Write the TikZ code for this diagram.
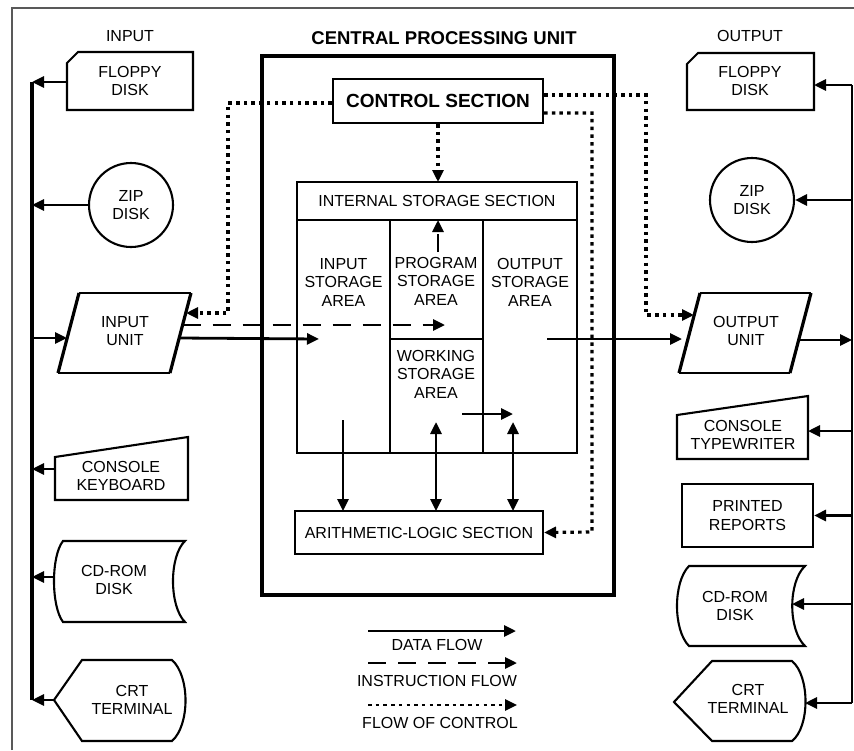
\documentclass[tikz,border=0pt]{standalone}
\usepackage{fontspec}
\setmainfont{Liberation Sans}
\usetikzlibrary{arrows.meta}

\tikzset{
  >={Triangle[length=12pt,width=11pt]},
  lbl/.style={font=\fontsize{16}{18.5}\selectfont, align=center, inner sep=0pt},
  hdr/.style={font=\fontsize{18.5}{22}\selectfont\bfseries, inner sep=0pt},
  outline/.style={draw, line width=2.1pt, line join=miter},
  slant/.style={draw, line width=3.2pt},
  boxnode/.style={draw, line width=2.1pt, inner sep=0pt, align=center,
    font=\fontsize{16}{18.5}\selectfont},
  data/.style={line width=2.8pt, ->},
  instr/.style={line width=2.8pt, dash pattern=on 18pt off 12pt, ->},
  ctrl/.style={line width=3.2pt, dash pattern=on 3.5pt off 4.2pt, ->},
  bus/.style={line width=3.4pt},
}

\begin{document}
\begin{tikzpicture}[x=1pt,y=-1pt]
\useasboundingbox (0,0) rectangle (854,750);
\fill[white] (0,0) rectangle (854,750);

% frame
\draw[line width=1.5pt, black!65] (12,750) -- (12,8) -- (854,8);

% ---------------- headings ----------------
\node[lbl] (inhdr)  at (130,36) {INPUT};
\node[lbl] (outhdr) at (750,36) {OUTPUT};
\node[hdr] (cpuhdr) at (444,38) {CENTRAL PROCESSING UNIT};

% ---------------- central processing unit ----------------
\draw[line width=3.8pt] (262,56) rectangle (614,595);

\node[boxnode, minimum width=210pt, minimum height=44pt,
      font=\fontsize{19}{22}\selectfont\bfseries] (ctl) at (438,101) {CONTROL SECTION};

% internal storage section
\draw[line width=2.1pt] (297,182) rectangle (577,453);
\draw[line width=2.1pt] (297,220) -- (577,220);
\draw[line width=2.1pt] (390,220) -- (390,453);
\draw[line width=2.1pt] (483,220) -- (483,453);
\draw[line width=2.1pt] (390,339) -- (483,339);
\coordinate (iss-top) at (438,182);
\coordinate (iss-hdr) at (438,220);
\node[lbl] (iss)  at (437,201) {INTERNAL STORAGE SECTION};
\node[lbl] (isa)  at (343.5,282) {INPUT\\STORAGE\\AREA};
\node[lbl] (psa)  at (436,281) {PROGRAM\\STORAGE\\AREA};
\node[lbl] (osa)  at (530,282) {OUTPUT\\STORAGE\\AREA};
\node[lbl] (wsa)  at (436,374) {WORKING\\STORAGE\\AREA};

\node[boxnode, minimum width=248pt, minimum height=43pt] (alu) at (419,532.5)
  {ARITHMETIC-LOGIC SECTION};

% ---------------- input side ----------------
% floppy disk (card)
\draw[outline] (78,52) -- (193,52) -- (193,110) -- (67,110) -- (67,63) -- cycle;
\node[lbl] (fdin) at (130,81) {FLOPPY\\DISK};
\coordinate (fdin-w) at (67,82);
\coordinate (bl-fd) at (32,82);

% zip disk
\node[draw, circle, line width=2.1pt, minimum size=84pt, inner sep=0pt,
      lbl] (zipin) at (131,205) {ZIP\\DISK};
\coordinate (bl-zip) at (32,205);

% input unit (parallelogram)
\draw[outline] (79,293) -- (191,293) (170,373) -- (58,373);
\draw[slant] (79,293) -- (58,373) (191,293) -- (170,373);
\node[lbl] (inu) at (125,331) {INPUT\\UNIT};
\coordinate (inu-w)  at (67,338);
\coordinate (inu-e)  at (179,338);
\coordinate (inu-ei) at (182.5,325);
\coordinate (inu-ec) at (186,313);
\coordinate (bl-inu) at (32,338);

% console keyboard (manual input)
\draw[outline] (55,457) -- (188,437) -- (188,500) -- (55,500) -- cycle;
\node[lbl] (kbd) at (121,476) {CONSOLE\\KEYBOARD};
\coordinate (kbd-w) at (55,469);
\coordinate (bl-kbd) at (32,469);

% cd-rom disk (stored data)
\draw[outline] (63,541) -- (185,541) .. controls (169,556) and (169,606) .. (185,622)
  -- (63,622) .. controls (51,606) and (51,556) .. cycle;
\node[lbl] (cdin) at (114,580) {CD-ROM\\DISK};
\coordinate (cdin-w) at (55,577);
\coordinate (bl-cd) at (32,577);

% crt terminal (display)
\draw[outline] (54,700) -- (82,660) -- (172,660) .. controls (190,676) and (190,725) .. (172,741)
  -- (82,741) -- cycle;
\node[lbl] (crtin) at (132,700) {CRT\\TERMINAL};
\coordinate (crtin-w) at (54,700);
\coordinate (bl-crt) at (32,700);

% input bus
\draw[bus] (bl-fd) -- (bl-crt);
\draw[data] (fdin-w) -- (bl-fd);
\draw[data] (zipin.west) -- (bl-zip);
\draw[data] (bl-inu) -- (inu-w);
\draw[data] (kbd-w) -- (bl-kbd);
\draw[data] (cdin-w) -- (bl-cd);
\draw[data] (crtin-w) -- (bl-crt);

% ---------------- output side ----------------
\draw[outline] (698,53) -- (814,53) -- (814,110) -- (687,110) -- (687,64) -- cycle;
\node[lbl] (fdout) at (750,81) {FLOPPY\\DISK};
\coordinate (fdout-e) at (814,85);
\coordinate (br-fd) at (852,85);

\node[draw, circle, line width=2.1pt, minimum size=84pt, inner sep=0pt,
      lbl] (zipout) at (752,200) {ZIP\\DISK};
\coordinate (br-zip) at (852,200);

\draw[outline] (700,293) -- (811,293) (790,373) -- (679,373);
\draw[slant] (700,293) -- (679,373) (811,293) -- (790,373);
\node[lbl] (outu) at (746,331) {OUTPUT\\UNIT};
\coordinate (outu-w)  at (682,339);
\coordinate (outu-wc) at (694,315);
\coordinate (outu-e)  at (799,340);
\coordinate (br-outu) at (852,340);

\draw[outline] (677,415) -- (808,396) -- (808,459) -- (677,459) -- cycle;
\node[lbl] (tw) at (743,435) {CONSOLE\\TYPEWRITER};
\coordinate (tw-e) at (808,431);
\coordinate (br-tw) at (852,431);

\node[boxnode, minimum width=131pt, minimum height=63pt] (rep) at (747.5,515.5)
  {PRINTED\\REPORTS};
\coordinate (br-rep) at (852,515.5);

\draw[outline] (689,566) -- (805,566) .. controls (788,582) and (788,630) .. (805,646)
  -- (689,646) .. controls (673,630) and (673,582) .. cycle;
\node[lbl] (cdout) at (735,606) {CD-ROM\\DISK};
\coordinate (cdout-e) at (792,604);
\coordinate (br-cd) at (852,604);

\draw[outline] (674,702) -- (712,661) -- (792,661) .. controls (810,676) and (810,727) .. (792,741)
  -- (712,741) -- cycle;
\node[lbl] (crtout) at (748,699) {CRT\\TERMINAL};
\coordinate (crtout-e) at (805,703);
\coordinate (br-crt) at (852,703);

% output bus
\draw[line width=2.8pt] (br-fd) -- (br-crt);
\draw[data] (br-fd) -- (fdout-e);
\draw[data] (br-zip) -- (zipout.east);
\draw[data] (outu-e) -- (br-outu);
\draw[data] (br-tw) -- (tw-e);
\draw[data] (br-rep) -- (rep.east);
\draw[data] (br-cd) -- (cdout-e);
\draw[data] (br-crt) -- (crtout-e);

% ---------------- flows inside the CPU ----------------
\coordinate (isa-in)  at (319,339);
\coordinate (psa-in)  at (445,325);
\coordinate (osa-out) at (547,339);
\coordinate (psa-up)  at (438,252);
\coordinate (isa-dn)  at (343,420);
\coordinate (wsa-dn)  at (436,422);
\coordinate (osa-dn)  at (513,422);
\coordinate (wsa-r)   at (462,414);
\coordinate (osa-l)   at (513,414);
\coordinate (alu-a)   at (343,511);
\coordinate (alu-b)   at (436,511);
\coordinate (alu-c)   at (513,511);

\draw[data]  (inu-e) -- (isa-in);
\draw[instr] (inu-ei) -- (psa-in);
\draw[data]  (osa-out) -- (outu-w);
\draw[instr] (psa-up) -- (iss-hdr);
\draw[data]  (wsa-r) -- (osa-l);
\draw[data]  (isa-dn) -- (alu-a);
\draw[data, <->] (wsa-dn) -- (alu-b);
\draw[data, <->] (osa-dn) -- (alu-c);

% control flow
\draw[ctrl] (ctl.west |- 0,103) -- (228,103) -- (228,313) -- (inu-ec);
\draw[ctrl] (ctl.east |- 0,95) -- (646,95) -- (646,315) -- (outu-wc);
\draw[ctrl] (ctl.east |- 0,113) -- (592,113) -- (592,532) -- (alu.east);
\draw[ctrl] (ctl.south) -- (iss-top);

% ---------------- legend ----------------
\coordinate (lg1a) at (368,631); \coordinate (lg1b) at (516,631);
\coordinate (lg2a) at (368,663); \coordinate (lg2b) at (517,663);
\coordinate (lg3a) at (368,705); \coordinate (lg3b) at (517,705);
\draw[data]  (lg1a) -- (lg1b);
\node[lbl] (lgdata) at (437,645) {DATA FLOW};
\draw[instr] (lg2a) -- (lg2b);
\node[lbl] (lginstr) at (437,681) {INSTRUCTION FLOW};
\draw[ctrl, line width=2.6pt] (lg3a) -- (lg3b);
\node[lbl] (lgctrl) at (440,723) {FLOW OF CONTROL};
\end{tikzpicture}
\end{document}
